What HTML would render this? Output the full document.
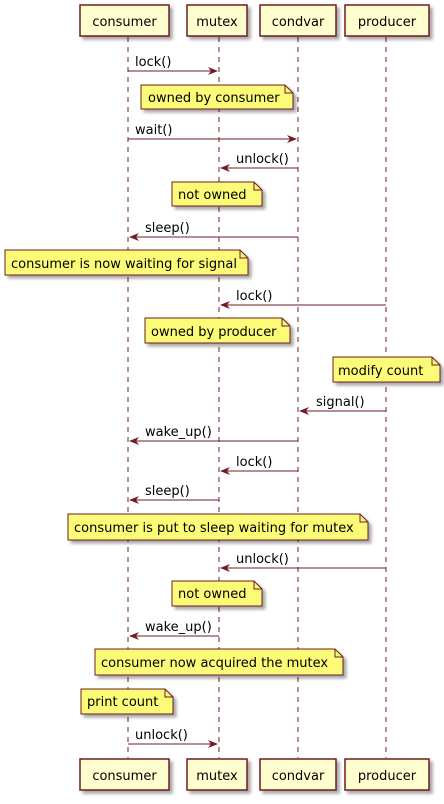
<!DOCTYPE html>
<html><head><meta charset="utf-8"><style>
html,body{margin:0;padding:0;background:#fff;}
svg{display:block;}
text{font-family:"DejaVu Sans","Liberation Sans",sans-serif;font-size:13px;fill:#000;}
</style></head><body>
<svg width="444" height="804" viewBox="0 0 444 804" xmlns="http://www.w3.org/2000/svg">
<defs>
<filter id="sh" x="-10%" y="-10%" width="130%" height="140%"><feGaussianBlur in="SourceAlpha" stdDeviation="1.5"/><feOffset dx="3" dy="3"/><feComponentTransfer><feFuncA type="linear" slope="0.35"/></feComponentTransfer><feMerge><feMergeNode/><feMergeNode in="SourceGraphic"/></feMerge></filter>
</defs>
<g stroke="#701c24" stroke-width="1" stroke-dasharray="5,5">
<line x1="128" y1="37" x2="128" y2="758"/>
<line x1="219" y1="37" x2="219" y2="758"/>
<line x1="298" y1="37" x2="298" y2="758"/>
<line x1="386" y1="37" x2="386" y2="758"/>
</g>
<g fill="#FEFECE" stroke="#701c24" stroke-width="1.5" filter="url(#sh)">
<rect x="80" y="5" width="89" height="31"/><rect x="187" y="5" width="60" height="31"/><rect x="260" y="5" width="76" height="31"/><rect x="345" y="5" width="84" height="31"/>
<rect x="80" y="759" width="89" height="31"/><rect x="187" y="759" width="60" height="31"/><rect x="260" y="759" width="76" height="31"/><rect x="345" y="759" width="84" height="31"/>
</g>
<g style="font-size:15px" text-anchor="middle">
<text x="124.5" y="26">consumer</text><text x="217" y="26">mutex</text><text x="298" y="26">condvar</text><text x="387" y="26">producer</text>
<text x="124.5" y="780">consumer</text><text x="217" y="780">mutex</text><text x="298" y="780">condvar</text><text x="387" y="780">producer</text>
</g>
<g fill="#FBFB77" stroke="#701c24" stroke-width="1" filter="url(#sh)">
<path d="M141,85 H285 L293,93 V109 H141 Z"/>
<path d="M172,182 H254 L262,190 V206 H172 Z"/>
<path d="M5,250 H240 L248,258 V275 H5 Z"/>
<path d="M145,318 H282 L290,326 V343 H145 Z"/>
<path d="M333,357 H432 L440,365 V382 H333 Z"/>
<path d="M68,514 H360 L368,522 V540 H68 Z"/>
<path d="M172,581 H254 L262,589 V606 H172 Z"/>
<path d="M95,649 H335 L343,657 V675 H95 Z"/>
<path d="M81,689 H165 L173,697 V714 H81 Z"/>
</g>
<g fill="none" stroke="#701c24" stroke-width="1">
<path d="M285,85 V93 H293"/><path d="M254,182 V190 H262"/><path d="M240,250 V258 H248"/><path d="M282,318 V326 H290"/><path d="M432,357 V365 H440"/><path d="M360,514 V522 H368"/><path d="M254,581 V589 H262"/><path d="M335,649 V657 H343"/><path d="M165,689 V697 H173"/>
</g>
<text x="148" y="102">owned by consumer</text>
<text x="178" y="199">not owned</text>
<text x="11" y="268">consumer is now waiting for signal</text>
<text x="151" y="336">owned by producer</text>
<text x="338" y="375">modify count</text>
<text x="74" y="532">consumer is put to sleep waiting for mutex</text>
<text x="178" y="598">not owned</text>
<text x="101" y="667">consumer now acquired the mutex</text>
<text x="87" y="706">print count</text>
<g stroke="#701c24" stroke-width="1">
<line x1="128" y1="71" x2="217" y2="71"/>
<line x1="128" y1="139" x2="296" y2="139"/>
<line x1="221" y1="168" x2="298" y2="168"/>
<line x1="130" y1="237" x2="298" y2="237"/>
<line x1="221" y1="305" x2="386" y2="305"/>
<line x1="300" y1="411" x2="386" y2="411"/>
<line x1="130" y1="441" x2="298" y2="441"/>
<line x1="221" y1="471" x2="298" y2="471"/>
<line x1="130" y1="500" x2="219" y2="500"/>
<line x1="221" y1="568" x2="386" y2="568"/>
<line x1="130" y1="636" x2="219" y2="636"/>
<line x1="128" y1="744" x2="217" y2="744"/>
</g>
<g fill="#701c24">
<path d="M218,71 l-10,-4 l3,4 l-3,4 z"/>
<path d="M297,139 l-10,-4 l3,4 l-3,4 z"/>
<path d="M220,168 l10,-4 l-3,4 l3,4 z"/>
<path d="M129,237 l10,-4 l-3,4 l3,4 z"/>
<path d="M220,305 l10,-4 l-3,4 l3,4 z"/>
<path d="M299,411 l10,-4 l-3,4 l3,4 z"/>
<path d="M129,441 l10,-4 l-3,4 l3,4 z"/>
<path d="M220,471 l10,-4 l-3,4 l3,4 z"/>
<path d="M129,500 l10,-4 l-3,4 l3,4 z"/>
<path d="M220,568 l10,-4 l-3,4 l3,4 z"/>
<path d="M129,636 l10,-4 l-3,4 l3,4 z"/>
<path d="M218,744 l-10,-4 l3,4 l-3,4 z"/>
</g>
<text x="135" y="66">lock()</text>
<text x="135" y="134">wait()</text>
<text x="236" y="163">unlock()</text>
<text x="145" y="232">sleep()</text>
<text x="236" y="300">lock()</text>
<text x="316" y="406">signal()</text>
<text x="145" y="436">wake_up()</text>
<text x="236" y="466">lock()</text>
<text x="145" y="495">sleep()</text>
<text x="236" y="563">unlock()</text>
<text x="145" y="631">wake_up()</text>
<text x="135" y="739">unlock()</text>
</svg>
</body></html>
